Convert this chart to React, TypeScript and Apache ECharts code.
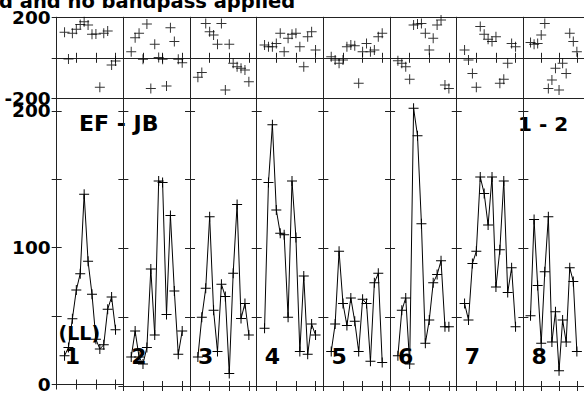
import React, { useEffect, useRef } from "react";
import * as echarts from "echarts";

// ---- data ----
const channels = [2, 3, 4, 5, 6, 7, 8, 9, 10, 11, 12, 13, 14, 15];
const panelNames = ["1", "2", "3", "4", "5", "6", "7", "8"];

const amp1 = [21, 27, 48, 69, 81, 139, 90, 66, 33, 26, 29, 55, 64, 40];
const amp2 = [21, 40, 21, 16, 28, 85, 37, 149, 148, 52, 124, 69, 23, 40];
const amp3 = [21, 50, 71, 123, 55, 25, 74, 65, 9, 82, 132, 49, 60, 37];
const amp4 = [42, 148, 190, 128, 111, 110, 50, 149, 108, 25, 80, 23, 45, 37];
const amp5 = [25, 45, 98, 60, 44, 64, 47, 25, 63, 60, 18, 75, 82, 17];
const amp6 = [22, 55, 64, 16, 202, 182, 118, 31, 48, 75, 81, 91, 43, 43];
const amp7 = [60, 48, 89, 98, 152, 140, 117, 152, 72, 99, 149, 68, 86, 43];
const amp8 = [51, 121, 73, 31, 83, 123, 32, 54, 11, 48, 32, 86, 76, 25];

const phase1 = [126, -6, 121, 141, 165, 178, 162, 116, 118, -146, 121, 132, -36, -16];
const phase2 = [30, 99, 121, -7, 167, -151, 67, 2, -7, -139, 149, 80, -7, -24];
const phase3 = [-96, -73, 170, 129, 113, 67, 170, -159, 67, -27, -44, -52, -60, -118];
const phase4 = [63, 55, 55, 71, 121, 30, 96, 116, 121, 55, -44, 104, 129, 38];
const phase5 = [5, -11, -27, -11, 55, 63, 60, -126, 30, 71, 30, 38, 104, 121];
const phase6 = [-15, -27, -44, -106, 162, 167, 170, 121, 38, 96, 162, 187, -134, -151];
const phase7 = [38, -11, -77, -146, 154, 116, 91, 80, 104, -126, -106, -27, 71, 55];
const phase8 = [75, 67, 71, 113, 170, -151, -110, -52, -159, -27, -77, 121, 80, 30];

const amps = [amp1, amp2, amp3, amp4, amp5, amp6, amp7, amp8];
const phases = [phase1, phase2, phase3, phase4, phase5, phase6, phase7, phase8];

const ampTickLabels = [0, 100, 200];
const phaseTickLabels = [-200, 200];

const titleText = "d and no bandpass applied";
const baselineText = "EF - JB";
const ifText = "1 - 2";
const stokesText = "(LL)";

// ---- layout ----
const X0 = 56.7;
const PW = 66.67;
const PH_TOP = 17.3;
const PH_H = 81;
const AMP_TOP = 98.3;
const AMP_H = 287.7;
const AMP_MAX = 209.2;
const FONT = '"DejaVu Sans", sans-serif';
const PLUS = "path://M4.5,0H5.5V4.5H10V5.5H5.5V10H4.5V5.5H0V4.5H4.5Z";
const LINE_COLOR = "#222";

function buildOption() {
  const grid: any[] = [];
  const xAxis: any[] = [];
  const yAxis: any[] = [];
  const series: any[] = [];
  const graphic: any[] = [];

  const axisLine = { show: true, lineStyle: { color: LINE_COLOR, width: 1 } };
  const tick = { show: true, inside: true, length: 5, lineStyle: { color: LINE_COLOR, width: 1 } };

  for (let i = 0; i < panelNames.length; i++) {
    const left = X0 + i * PW;
    for (let kind = 0; kind < 2; kind++) {
      const gi = grid.length;
      const isPhase = kind === 0;
      grid.push({
        left,
        top: isPhase ? PH_TOP : AMP_TOP,
        width: PW,
        height: isPhase ? PH_H : AMP_H,
      });
      for (const pos of ["bottom", "top"]) {
        xAxis.push({
          gridIndex: gi,
          type: "value",
          position: pos,
          min: 0,
          max: 17,
          interval: 5,
          axisLine,
          axisTick: tick,
          axisLabel: { show: false },
          splitLine: { show: false },
        });
      }
      for (const pos of ["left", "right"]) {
        const showLabel = i === 0 && pos === "left";
        yAxis.push({
          gridIndex: gi,
          type: "value",
          position: pos,
          min: isPhase ? -200 : 0,
          max: isPhase ? 200 : AMP_MAX,
          interval: isPhase ? 200 : 50,
          axisLine,
          axisTick: tick,
          axisLabel: {
            show: showLabel,
            margin: 6,
            fontFamily: FONT,
            fontWeight: "bold",
            fontSize: 18.5,
            color: "#000",
            formatter: (v: number) => {
              const list = isPhase ? phaseTickLabels : ampTickLabels;
              return list.indexOf(v) >= 0 ? String(v) : "";
            },
          },
          splitLine: {
            show: isPhase && pos === "left",
            lineStyle: { color: LINE_COLOR, width: 1 },
          },
        });
      }
      const data = channels.map((c, k) => [c, (isPhase ? phases[i] : amps[i])[k]]);
      if (isPhase) {
        series.push({
          type: "scatter",
          xAxisIndex: gi * 2,
          yAxisIndex: gi * 2,
          data,
          symbol: PLUS,
          symbolSize: 10,
          itemStyle: { color: "#000" },
          silent: true,
        });
      } else {
        series.push({
          type: "line",
          xAxisIndex: gi * 2,
          yAxisIndex: gi * 2,
          data,
          symbol: PLUS,
          symbolSize: 10,
          showAllSymbol: true,
          lineStyle: { color: "#000", width: 1 },
          itemStyle: { color: "#000" },
          silent: true,
        });
      }
    }
    graphic.push({
      type: "text",
      x: left + 8,
      y: 356.5,
      style: {
        text: panelNames[i],
        font: `bold 22px ${FONT}`,
        fill: "#000",
        verticalAlign: "middle",
      },
    });
  }

  graphic.push(
    {
      type: "text",
      x: -1,
      y: 1,
      style: { text: titleText, font: `bold 19.5px ${FONT}`, fill: "#000", verticalAlign: "middle" },
    },
    {
      type: "text",
      x: 79,
      y: 123,
      style: { text: baselineText, font: `bold 22px ${FONT}`, fill: "#000", verticalAlign: "middle" },
    },
    {
      type: "text",
      x: 518,
      y: 123.5,
      style: { text: ifText, font: `bold 20px ${FONT}`, fill: "#000", verticalAlign: "middle" },
    },
    {
      type: "text",
      x: 58.5,
      y: 333,
      style: { text: stokesText, font: `bold 19px ${FONT}`, fill: "#000", verticalAlign: "middle" },
    }
  );

  return {
    animation: false,
    backgroundColor: "#fff",
    grid,
    xAxis,
    yAxis,
    series,
    graphic,
  };
}

export default function App() {
  const ref = useRef<HTMLDivElement>(null);
  useEffect(() => {
    if (!ref.current) return;
    const chart = echarts.init(ref.current, undefined, { renderer: "svg" });
    chart.setOption(buildOption() as any);
    return () => chart.dispose();
  }, []);
  return (
    <div
      ref={ref}
      style={{ position: "fixed", left: 0, top: 0, width: 584, height: 394, background: "#fff" }}
    />
  );
}
